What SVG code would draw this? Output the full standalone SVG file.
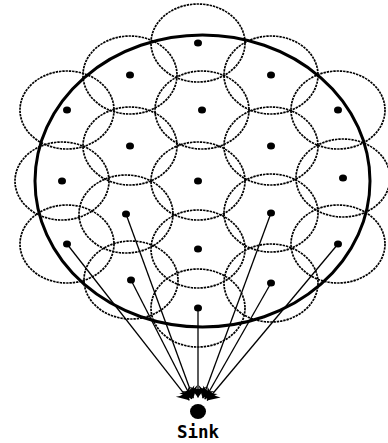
<svg xmlns="http://www.w3.org/2000/svg" width="388" height="443" viewBox="0 0 388 443">
<style>
.range{fill:none;stroke:#000;stroke-width:1.7;stroke-dasharray:2.4 0.9}
.dot{fill:#000}
.link{stroke:#000;stroke-width:1.3;fill:none;marker-end:url(#arrow)}
.field{fill:none;stroke:#000;stroke-width:3}
.label{font-family:"DejaVu Sans Mono",monospace;font-weight:bold;font-size:17.5px;fill:#000}
</style>
<defs>
<marker id="arrow" markerUnits="userSpaceOnUse" viewBox="-13 -10 14 20" markerWidth="14" markerHeight="20" refX="0" refY="0" orient="auto">
<path d="M0,0 L-11,-8.5 Q-6,0 -11,8.5 Z" fill="#000"/>
</marker>
</defs>
<rect width="388" height="443" fill="#fff"/>
<g id="field"><ellipse class="field" cx="202.5" cy="181" rx="167.5" ry="146"/></g>
<g id="n1"><ellipse class="range" cx="198" cy="43" rx="47" ry="39"/><ellipse class="dot" cx="198" cy="43" rx="4" ry="3.6"/></g>
<g id="n2"><ellipse class="range" cx="130" cy="75" rx="47" ry="39"/><ellipse class="dot" cx="130" cy="75" rx="4" ry="3.6"/></g>
<g id="n3"><ellipse class="range" cx="271" cy="75" rx="47" ry="39"/><ellipse class="dot" cx="271" cy="75" rx="4" ry="3.6"/></g>
<g id="n4"><ellipse class="range" cx="67" cy="110" rx="47" ry="39"/><ellipse class="dot" cx="67" cy="110" rx="4" ry="3.6"/></g>
<g id="n5"><ellipse class="range" cx="202" cy="110" rx="47" ry="39"/><ellipse class="dot" cx="202" cy="110" rx="4" ry="3.6"/></g>
<g id="n6"><ellipse class="range" cx="338" cy="110" rx="47" ry="39"/><ellipse class="dot" cx="338" cy="110" rx="4" ry="3.6"/></g>
<g id="n7"><ellipse class="range" cx="130" cy="146" rx="47" ry="39"/><ellipse class="dot" cx="130" cy="146" rx="4" ry="3.6"/></g>
<g id="n8"><ellipse class="range" cx="271" cy="146" rx="47" ry="39"/><ellipse class="dot" cx="271" cy="146" rx="4" ry="3.6"/></g>
<g id="n9"><ellipse class="range" cx="62" cy="181" rx="47" ry="39"/><ellipse class="dot" cx="62" cy="181" rx="4" ry="3.6"/></g>
<g id="n10"><ellipse class="range" cx="198" cy="181" rx="47" ry="39"/><ellipse class="dot" cx="198" cy="181" rx="4" ry="3.6"/></g>
<g id="n11"><ellipse class="range" cx="343" cy="178" rx="47" ry="39"/><ellipse class="dot" cx="343" cy="178" rx="4" ry="3.6"/></g>
<g id="n12"><ellipse class="range" cx="126" cy="214" rx="47" ry="39"/><ellipse class="dot" cx="126" cy="214" rx="4" ry="3.6"/></g>
<g id="n13"><ellipse class="range" cx="271" cy="213" rx="47" ry="39"/><ellipse class="dot" cx="271" cy="213" rx="4" ry="3.6"/></g>
<g id="n14"><ellipse class="range" cx="67" cy="244" rx="47" ry="39"/><ellipse class="dot" cx="67" cy="244" rx="4" ry="3.6"/></g>
<g id="n15"><ellipse class="range" cx="198" cy="249" rx="47" ry="39"/><ellipse class="dot" cx="198" cy="249" rx="4" ry="3.6"/></g>
<g id="n16"><ellipse class="range" cx="338" cy="244" rx="47" ry="39"/><ellipse class="dot" cx="338" cy="244" rx="4" ry="3.6"/></g>
<g id="n17"><ellipse class="range" cx="131" cy="280" rx="47" ry="39"/><ellipse class="dot" cx="131" cy="280" rx="4" ry="3.6"/></g>
<g id="n18"><ellipse class="range" cx="271" cy="283" rx="47" ry="39"/><ellipse class="dot" cx="271" cy="283" rx="4" ry="3.6"/></g>
<g id="n19"><ellipse class="range" cx="198" cy="308" rx="47" ry="39"/><ellipse class="dot" cx="198" cy="308" rx="4" ry="3.6"/></g>
<g id="connectors">
<line class="link" x1="67" y1="244" x2="189.3" y2="400.3"/>
<line class="link" x1="126" y1="214" x2="193.3" y2="398.3"/>
<line class="link" x1="131" y1="280" x2="191.8" y2="399"/>
<line class="link" x1="198" y1="308" x2="198" y2="397.5"/>
<line class="link" x1="271" y1="283" x2="204.8" y2="399.3"/>
<line class="link" x1="271" y1="213" x2="202.7" y2="398.3"/>
<line class="link" x1="338" y1="244" x2="207" y2="400.5"/>
</g>
<g id="sink">
<ellipse cx="198" cy="411.5" rx="8" ry="7.5" fill="#000"/>
<text class="label" x="198" y="438" text-anchor="middle">Sink</text>
</g>
</svg>
